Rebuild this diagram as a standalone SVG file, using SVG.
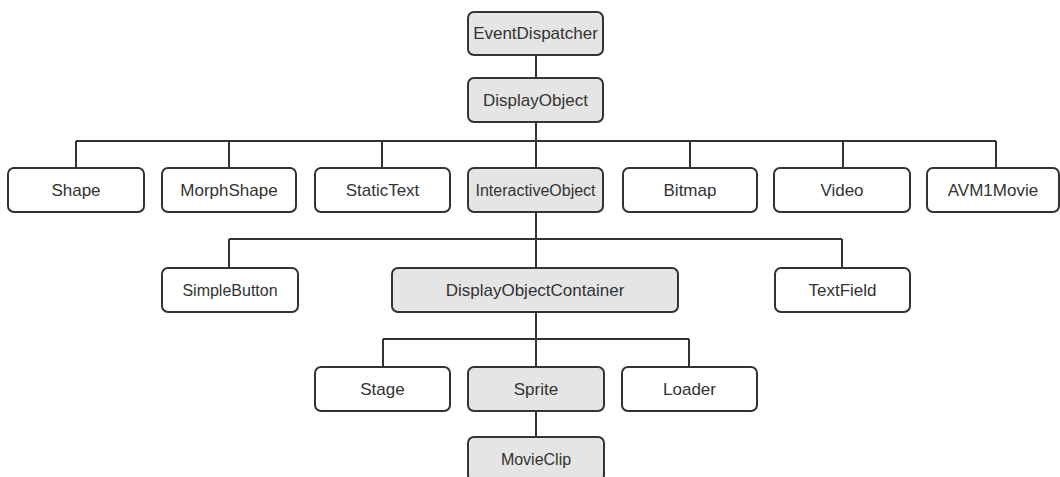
<svg xmlns="http://www.w3.org/2000/svg" width="1060" height="477" viewBox="0 0 1060 477">
<style>
.box{fill:#fff;stroke:#333;stroke-width:2}
.g{fill:#e5e5e5}
text{font-family:"Liberation Sans",Arial,sans-serif;font-size:17px;fill:#333;text-anchor:middle;dominant-baseline:central}
.s{font-size:16px}
.c{fill:none;stroke:#333;stroke-width:2}
</style>
<rect width="1060" height="477" fill="#fff"/>
<g id="connectors">
<path class="c" d="M536 55V78M536 122V141M76 141H996M76 141V168M229 141V168M382 141V168M536 141V168M690 141V168M843 141V168M996 141V168"/>
<path class="c" d="M536 212V239M229 239H842M229 239V268M536 239V268M842 239V268"/>
<path class="c" d="M536 312V339M383 339H689M383 339V367M536 339V367M689 339V367M536 411V437"/>
</g>
<g id="EventDispatcher"><rect class="box g" x="468" y="12" width="135" height="43" rx="6"/><text x="535.5" y="33.5">EventDispatcher</text></g>
<g id="DisplayObject"><rect class="box g" x="468" y="78" width="135" height="44" rx="6"/><text x="535.5" y="100">DisplayObject</text></g>
<g id="Shape"><rect class="box" x="8" y="168" width="136" height="44" rx="6"/><text x="76" y="190">Shape</text></g>
<g id="MorphShape"><rect class="box" x="162" y="168" width="134" height="44" rx="6"/><text x="229" y="190">MorphShape</text></g>
<g id="StaticText"><rect class="box" x="315" y="168" width="135" height="44" rx="6"/><text x="382.5" y="190">StaticText</text></g>
<g id="InteractiveObject"><rect class="box g" x="468" y="168" width="135" height="44" rx="6"/><text class="s" x="535.5" y="190">InteractiveObject</text></g>
<g id="Bitmap"><rect class="box" x="623" y="168" width="134" height="44" rx="6"/><text x="690" y="190">Bitmap</text></g>
<g id="Video"><rect class="box" x="774" y="168" width="136" height="44" rx="6"/><text x="842" y="190">Video</text></g>
<g id="AVM1Movie"><rect class="box" x="927" y="168" width="132" height="44" rx="6"/><text x="993" y="190">AVM1Movie</text></g>
<g id="SimpleButton"><rect class="box" x="162" y="268" width="136" height="44" rx="6"/><text class="s" x="230" y="290">SimpleButton</text></g>
<g id="DisplayObjectContainer"><rect class="box g" x="392" y="268" width="286" height="44" rx="6"/><text x="535" y="290">DisplayObjectContainer</text></g>
<g id="TextField"><rect class="box" x="775" y="268" width="135" height="44" rx="6"/><text x="842.5" y="290">TextField</text></g>
<g id="Stage"><rect class="box" x="315" y="367" width="135" height="44" rx="6"/><text x="382.5" y="389">Stage</text></g>
<g id="Sprite"><rect class="box g" x="468" y="367" width="136" height="44" rx="6"/><text x="536" y="389">Sprite</text></g>
<g id="Loader"><rect class="box" x="622" y="367" width="135" height="44" rx="6"/><text x="689.5" y="389">Loader</text></g>
<g id="MovieClip"><rect class="box g" x="468" y="437" width="136" height="44" rx="6"/><text class="s" x="536" y="459">MovieClip</text></g>
</svg>
